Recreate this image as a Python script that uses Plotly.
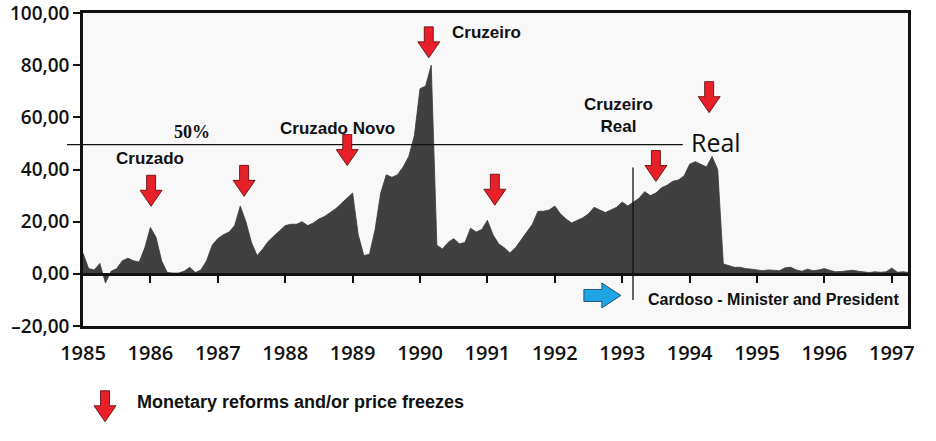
import plotly.graph_objects as go

# ---------------- data (monthly) ----------------
v1985 = [8, 2, 1.5, 4, -3.5, 1, 2, 5, 6, 5, 4.5, 10]
v1986 = [17.8, 14, 5, 0.5, 0.3, 0.3, 1, 2.5, 0.5, 1.5, 5, 11]
v1987 = [13.5, 15, 16, 18.5, 26, 20, 12, 7, 9.5, 12.5, 14.5, 16.5]
v1988 = [18.5, 19, 19, 20, 18.5, 19.5, 21, 22, 23.5, 25, 27, 29]
v1989 = [31, 15, 7, 7.5, 17, 31, 38, 37, 38, 41, 45, 53]
v1990 = [71, 72, 80, 11, 9.5, 12, 13.5, 11.5, 12, 17.5, 16, 17]
v1991 = [20.5, 15, 11.5, 10, 8, 10, 13, 16, 19, 24, 24, 24.5]
v1992 = [26, 23, 21, 19.5, 20.5, 21.5, 23, 25.5, 24.5, 23.5, 24.5, 25.5]
v1993 = [27.5, 26, 27.5, 29, 31.5, 30, 31, 33, 34, 35.5, 36, 37.5]
v1994 = [42, 43, 42, 41, 45, 40, 3.8, 3, 2.5, 2.5, 2, 1.8]
v1995 = [1.5, 1.2, 1.5, 1.3, 1.2, 2.3, 2.5, 1.5, 1.0, 1.8, 1.2, 1.5]
v1996 = [2.0, 1.3, 0.8, 0.9, 1.2, 1.4, 1.0, 0.7, 0.5, 0.8, 0.6, 0.8]
v1997 = [2.2, 0.6, 0.8, 0.5]

series_by_year = [(1985, v1985), (1986, v1986), (1987, v1987), (1988, v1988),
                  (1989, v1989), (1990, v1990), (1991, v1991), (1992, v1992),
                  (1993, v1993), (1994, v1994), (1995, v1995), (1996, v1996),
                  (1997, v1997)]

years = list(range(1985, 1998))
year_labels = [str(y) for y in years]
y_ticks = [-20, 0, 20, 40, 60, 80, 100]
y_tick_labels = ["\u201320,00", "0,00", "20,00", "40,00", "60,00", "80,00", "100,00"]

# annotations (label, year, value)
era_labels = [("Cruzado", 1985.99, 44.2), ("Cruzado Novo", 1988.78, 55.7),
              ("Cruzeiro", 1990.99, 92.7), ("Cruzeiro<br>Real", 1992.94, 60.8)]
# red arrow tips (year, value)
reform_arrows = [(1986.01, 25.9), (1987.39, 29.7), (1988.92, 41.5), (1990.13, 82.8),
                 (1991.11, 26.3), (1993.50, 35.4), (1994.29, 61.8)]

x_vals, y_vals = [], []
for yr, vals in series_by_year:
    for m, v in enumerate(vals):
        x_vals.append(yr + m / 12.0)
        y_vals.append(v)

X_RANGE = [1985, 1997.24]
Y_RANGE = [-20, 100]

fig = go.Figure()
fig.add_trace(go.Scatter(x=x_vals, y=y_vals, mode="lines", fill="tozeroy",
                         line=dict(color="#3a3a3a", width=0.8),
                         fillcolor="#404040", hoverinfo="skip", showlegend=False))
# helper trace for the zero-line axis with ticks
fig.add_trace(go.Scatter(x=[1990], y=[0], xaxis="x2", mode="markers",
                         marker=dict(opacity=0), hoverinfo="skip", showlegend=False))

tick_font = dict(family="Open Sans, Lato, sans-serif", size=19, color="#111", weight=600)

fig.update_layout(
    width=936, height=441,
    margin=dict(l=83, r=28, t=13, b=115, autoexpand=False),
    paper_bgcolor="white", plot_bgcolor="#f8f8f8",
    xaxis=dict(range=X_RANGE, showgrid=False, zeroline=False, showline=True,
               linewidth=2.5, linecolor="#111", mirror=True, automargin=False,
               tickvals=years, ticktext=year_labels, ticks="outside", ticklen=7,
               tickcolor="rgba(0,0,0,0)", tickfont=dict(tick_font, size=20),
               ticklabeloverflow="allow"),
    xaxis2=dict(range=X_RANGE, overlaying="x", anchor="free", position=20 / 120,
                showgrid=False, zeroline=False, showline=True, linewidth=3,
                linecolor="#111", tickvals=years[1:], ticks="outside", ticklen=7,
                tickwidth=2, tickcolor="#111", showticklabels=False, automargin=False),
    yaxis=dict(range=Y_RANGE, showgrid=False, zeroline=False, showline=True,
               linewidth=2.5, linecolor="#111", mirror=True, automargin=False,
               tickvals=y_ticks, ticktext=y_tick_labels, ticks="outside", ticklen=7,
               tickwidth=2, tickcolor="#111", tickfont=tick_font,
               ticklabeloverflow="allow"),
)

bold = dict(family="Liberation Sans, Arial, sans-serif", size=17, color="#111")

for txt, x, y in era_labels:
    fig.add_annotation(x=x, y=y, text="<b>%s</b>" % txt, showarrow=False,
                       font=bold, xref="x", yref="y")

fig.add_annotation(x=1986.62, y=54.5, text="<b>50%</b>", showarrow=False,
                   font=dict(family="Liberation Serif, serif", size=18, color="#111"))
fig.add_annotation(x=1994.39, y=50.5, text="Real", showarrow=False,
                   font=dict(family="Open Sans, sans-serif", size=25, color="#111"))
fig.add_annotation(x=1995.24, y=-10.0, text="<b>Cardoso - Minister and President</b>",
                   showarrow=False,
                   font=dict(family="Liberation Sans, Arial, sans-serif", size=16, color="#111"))
fig.add_annotation(x=0.0625, y=-0.242, xref="paper", yref="paper", xanchor="left",
                   yanchor="middle",
                   text="<b>Monetary reforms and/or price freezes</b>", showarrow=False,
                   font=dict(family="Liberation Sans, Arial, sans-serif", size=18, color="#111"))

# 50% line
fig.add_shape(type="line", xref="paper", yref="y", x0=-0.0194, x1=0.727, y0=49.5, y1=49.5,
              line=dict(color="#111", width=1.3))
# Cardoso vertical line
fig.add_shape(type="line", xref="x", yref="y", x0=1993.16, x1=1993.16, y0=40.8, y1=-10,
              line=dict(color="#111", width=1.3))

down_arrow = "M -4.5,31 L 4.5,31 L 4.5,16 L 11,16 L 0,0 L -11,16 L -4.5,16 Z"
for x, y in reform_arrows:
    fig.add_shape(type="path", xref="x", yref="y", xsizemode="pixel", ysizemode="pixel",
                  xanchor=x, yanchor=y, path=down_arrow,
                  fillcolor="#e8202a", line=dict(color="#5a0000", width=0.8))
# legend arrow
fig.add_shape(type="path", xref="paper", yref="paper", xsizemode="pixel", ysizemode="pixel",
              xanchor=0.0267, yanchor=-0.306, path=down_arrow,
              fillcolor="#e8202a", line=dict(color="#5a0000", width=0.8))
# blue arrow
right_arrow = "M -37,6 L -19,6 L -19,12.5 L 0,0 L -19,-12.5 L -19,-6 L -37,-6 Z"
fig.add_shape(type="path", xref="x", yref="y", xsizemode="pixel", ysizemode="pixel",
              xanchor=1992.98, yanchor=-8.3, path=right_arrow,
              fillcolor="#1ea3e3", line=dict(color="#0a3a5a", width=0.8))

fig.write_html("out.html", config={"displayModeBar": False},
               post_script="document.body.style.margin='0';")
